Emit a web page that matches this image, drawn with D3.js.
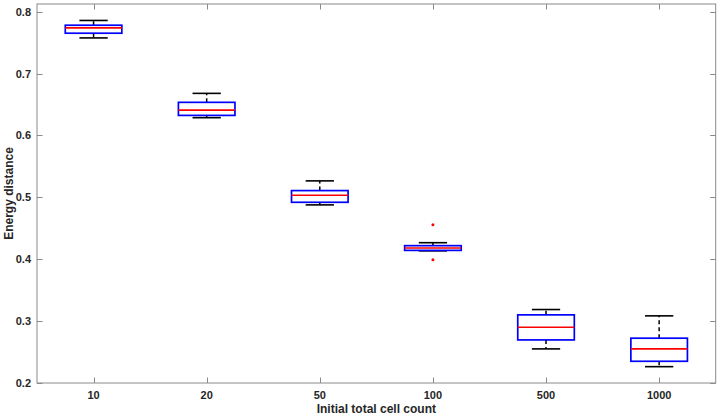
<!DOCTYPE html>
<html>
<head>
<meta charset="utf-8">
<script src="https://cdn.jsdelivr.net/npm/d3@7"></script>
<style>
  html, body { margin: 0; padding: 0; background: #fff; }
  svg { display: block; }
  text { font-family: "Liberation Sans", Arial, Helvetica, sans-serif; font-weight: bold; fill: #262626; }
</style>
</head>
<body>
<svg id="chart" width="720" height="418"></svg>
<script>
const categories = ["10", "20", "50", "100", "500", "1000"];
const whiskerLow = [0.7576, 0.6287, 0.4878, 0.4135, 0.2551, 0.2264];
const q1 =         [0.7652, 0.6324, 0.4920, 0.4143, 0.2696, 0.2351];
const medians =    [0.7738, 0.6410, 0.5033, 0.4181, 0.2902, 0.2551];
const q3 =         [0.7781, 0.6535, 0.5109, 0.4219, 0.3101, 0.2724];
const whiskerHigh =[0.7858, 0.6680, 0.5266, 0.4267, 0.3187, 0.3085];
const outliers =   [[], [], [], [0.4559, 0.3992], [], []];
const yTicks = [0.2, 0.3, 0.4, 0.5, 0.6, 0.7, 0.8];
const xLabel = "Initial total cell count";
const yLabel = "Energy distance";

const margin = { left: 37, right: 4.3, top: 4, bottom: 35 };
const W = 720, H = 418;
const svg = d3.select("#chart");

const x = d3.scaleBand().domain(categories)
  .range([margin.left, W - margin.right]).padding(0);
const y = d3.scaleLinear().domain([0.2, 0.8124])
  .range([H - margin.bottom, margin.top]);

const bw = x.bandwidth();
const boxW = bw * 0.5, capW = bw * 0.25;
const cx = c => x(c) + bw / 2;

const axisColor = "#8a8a8a";
const x0 = margin.left, x1 = W - margin.right, y0 = H - margin.bottom, y1 = margin.top;

// axes box
const g = svg.append("g");
g.append("rect").attr("x", x0).attr("y", y1).attr("width", x1 - x0).attr("height", y0 - y1)
  .attr("fill", "none").attr("stroke", axisColor).attr("stroke-width", 1);

// ticks (inside)
const tl = 5.5;
yTicks.forEach(t => {
  const yy = Math.round(y(t)) + 0.5;
  g.append("line").attr("x1", x0).attr("x2", x0 + tl).attr("y1", yy).attr("y2", yy).attr("stroke", axisColor);
  g.append("line").attr("x1", x1).attr("x2", x1 - tl).attr("y1", yy).attr("y2", yy).attr("stroke", axisColor);
});
categories.forEach(c => {
  const xx = Math.round(cx(c)) + 0.5;
  g.append("line").attr("x1", xx).attr("x2", xx).attr("y1", y0).attr("y2", y0 - tl).attr("stroke", axisColor);
  g.append("line").attr("x1", xx).attr("x2", xx).attr("y1", y1).attr("y2", y1 + tl).attr("stroke", axisColor);
});

// tick labels
const yAxis = d3.axisLeft(y).tickValues(yTicks).tickFormat(d3.format(".1f")).tickSize(0).tickPadding(5);
const ya = svg.append("g").attr("transform", `translate(${x0 - 1},0)`).call(yAxis);
ya.select(".domain").remove();
ya.selectAll("text").style("font-size", "11px").attr("fill", "#262626");

const xAxis = d3.axisBottom(x).tickSize(0).tickPadding(8);
const xa = svg.append("g").attr("transform", `translate(0,${y0})`).call(xAxis);
xa.select(".domain").remove();
xa.selectAll("text").style("font-size", "11px").attr("fill", "#262626");

// axis titles
svg.append("text").attr("x", (x0 + x1) / 2).attr("y", 413).attr("text-anchor", "middle")
  .style("font-size", "12px").text(xLabel);
svg.append("text").attr("transform", `translate(13,${(y0 + y1) / 2}) rotate(-90)`)
  .attr("text-anchor", "middle").style("font-size", "12px").text(yLabel);

// boxes
const bg = svg.append("g");
categories.forEach((c, i) => {
  const m = cx(c);
  // whiskers (dashed)
  bg.append("line").attr("x1", m).attr("x2", m).attr("y1", y(q3[i])).attr("y2", y(whiskerHigh[i]))
    .attr("stroke", "#000").attr("stroke-width", 1.5).attr("stroke-dasharray", "4,3");
  bg.append("line").attr("x1", m).attr("x2", m).attr("y1", y(q1[i])).attr("y2", y(whiskerLow[i]))
    .attr("stroke", "#000").attr("stroke-width", 1.5).attr("stroke-dasharray", "4,3");
  // caps
  [whiskerHigh[i], whiskerLow[i]].forEach(v => {
    bg.append("line").attr("x1", m - capW / 2).attr("x2", m + capW / 2).attr("y1", y(v)).attr("y2", y(v))
      .attr("stroke", "#000").attr("stroke-width", 1.6);
  });
  // box
  bg.append("rect").attr("x", m - boxW / 2).attr("y", y(q3[i])).attr("width", boxW)
    .attr("height", y(q1[i]) - y(q3[i])).attr("fill", "none").attr("stroke", "#0000ff").attr("stroke-width", 1.7);
  // median
  bg.append("line").attr("x1", m - boxW / 2).attr("x2", m + boxW / 2).attr("y1", y(medians[i])).attr("y2", y(medians[i]))
    .attr("stroke", "#ff0000").attr("stroke-width", 1.6);
  // outliers
  outliers[i].forEach(v => {
    bg.append("circle").attr("cx", m).attr("cy", y(v)).attr("r", 1.5).attr("fill", "#ff0000");
  });
});
</script>
</body>
</html>
